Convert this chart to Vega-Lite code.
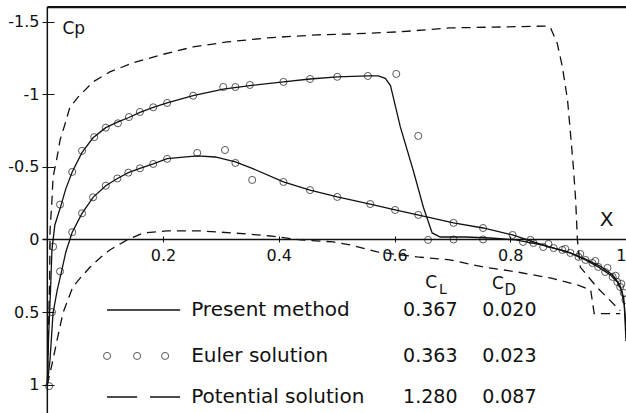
{
  "$schema": "https://vega.github.io/schema/vega-lite/v6.json",
  "width": 626,
  "height": 413,
  "autosize": {"type": "none"},
  "padding": 0,
  "background": "white",
  "config": {"view": {"stroke": null}, "font": "DejaVu Sans"},
  "datasets": {
    "curves": [
      {"method": "Present method", "surface": "upper", "x": 0, "cp": 1.0},
      {"method": "Present method", "surface": "upper", "x": 0.002, "cp": 0.69},
      {"method": "Present method", "surface": "upper", "x": 0.0055, "cp": 0.35},
      {"method": "Present method", "surface": "upper", "x": 0.008, "cp": 0.07},
      {"method": "Present method", "surface": "upper", "x": 0.013, "cp": -0.1},
      {"method": "Present method", "surface": "upper", "x": 0.024, "cp": -0.24},
      {"method": "Present method", "surface": "upper", "x": 0.032, "cp": -0.35},
      {"method": "Present method", "surface": "upper", "x": 0.043, "cp": -0.465},
      {"method": "Present method", "surface": "upper", "x": 0.06, "cp": -0.6},
      {"method": "Present method", "surface": "upper", "x": 0.079, "cp": -0.7},
      {"method": "Present method", "surface": "upper", "x": 0.101, "cp": -0.77},
      {"method": "Present method", "surface": "upper", "x": 0.122, "cp": -0.81},
      {"method": "Present method", "surface": "upper", "x": 0.141, "cp": -0.84},
      {"method": "Present method", "surface": "upper", "x": 0.16, "cp": -0.875},
      {"method": "Present method", "surface": "upper", "x": 0.183, "cp": -0.91},
      {"method": "Present method", "surface": "upper", "x": 0.207, "cp": -0.94},
      {"method": "Present method", "surface": "upper", "x": 0.252, "cp": -0.99},
      {"method": "Present method", "surface": "upper", "x": 0.304, "cp": -1.035},
      {"method": "Present method", "surface": "upper", "x": 0.35, "cp": -1.06},
      {"method": "Present method", "surface": "upper", "x": 0.408, "cp": -1.085},
      {"method": "Present method", "surface": "upper", "x": 0.454, "cp": -1.105},
      {"method": "Present method", "surface": "upper", "x": 0.501, "cp": -1.12},
      {"method": "Present method", "surface": "upper", "x": 0.554, "cp": -1.126},
      {"method": "Present method", "surface": "upper", "x": 0.572, "cp": -1.126},
      {"method": "Present method", "surface": "upper", "x": 0.584, "cp": -1.11},
      {"method": "Present method", "surface": "upper", "x": 0.593, "cp": -1.06},
      {"method": "Present method", "surface": "upper", "x": 0.61, "cp": -0.775},
      {"method": "Present method", "surface": "upper", "x": 0.632, "cp": -0.48},
      {"method": "Present method", "surface": "upper", "x": 0.65, "cp": -0.22},
      {"method": "Present method", "surface": "upper", "x": 0.665, "cp": -0.045},
      {"method": "Present method", "surface": "upper", "x": 0.679, "cp": -0.017},
      {"method": "Present method", "surface": "upper", "x": 0.722, "cp": -0.017},
      {"method": "Present method", "surface": "upper", "x": 0.765, "cp": -0.01},
      {"method": "Present method", "surface": "upper", "x": 0.809, "cp": 0.003},
      {"method": "Present method", "surface": "upper", "x": 0.852, "cp": 0.035},
      {"method": "Present method", "surface": "upper", "x": 0.895, "cp": 0.08},
      {"method": "Present method", "surface": "upper", "x": 0.93, "cp": 0.135},
      {"method": "Present method", "surface": "upper", "x": 0.956, "cp": 0.185},
      {"method": "Present method", "surface": "upper", "x": 0.977, "cp": 0.245},
      {"method": "Present method", "surface": "upper", "x": 0.989, "cp": 0.31},
      {"method": "Present method", "surface": "upper", "x": 0.996, "cp": 0.4},
      {"method": "Present method", "surface": "upper", "x": 1.0, "cp": 0.6},
      {"method": "Present method", "surface": "lower", "x": 0, "cp": 1.0},
      {"method": "Present method", "surface": "lower", "x": 0.0046, "cp": 0.83},
      {"method": "Present method", "surface": "lower", "x": 0.0099, "cp": 0.506},
      {"method": "Present method", "surface": "lower", "x": 0.017, "cp": 0.35},
      {"method": "Present method", "surface": "lower", "x": 0.024, "cp": 0.23},
      {"method": "Present method", "surface": "lower", "x": 0.032, "cp": 0.086},
      {"method": "Present method", "surface": "lower", "x": 0.043, "cp": -0.05},
      {"method": "Present method", "surface": "lower", "x": 0.06, "cp": -0.18},
      {"method": "Present method", "surface": "lower", "x": 0.079, "cp": -0.29},
      {"method": "Present method", "surface": "lower", "x": 0.101, "cp": -0.37},
      {"method": "Present method", "surface": "lower", "x": 0.121, "cp": -0.42},
      {"method": "Present method", "surface": "lower", "x": 0.14, "cp": -0.46},
      {"method": "Present method", "surface": "lower", "x": 0.16, "cp": -0.49},
      {"method": "Present method", "surface": "lower", "x": 0.183, "cp": -0.52},
      {"method": "Present method", "surface": "lower", "x": 0.207, "cp": -0.556},
      {"method": "Present method", "surface": "lower", "x": 0.259, "cp": -0.575},
      {"method": "Present method", "surface": "lower", "x": 0.29, "cp": -0.568},
      {"method": "Present method", "surface": "lower", "x": 0.325, "cp": -0.534},
      {"method": "Present method", "surface": "lower", "x": 0.354, "cp": -0.49},
      {"method": "Present method", "surface": "lower", "x": 0.408, "cp": -0.396},
      {"method": "Present method", "surface": "lower", "x": 0.454, "cp": -0.34},
      {"method": "Present method", "surface": "lower", "x": 0.501, "cp": -0.293},
      {"method": "Present method", "surface": "lower", "x": 0.558, "cp": -0.244},
      {"method": "Present method", "surface": "lower", "x": 0.601, "cp": -0.203},
      {"method": "Present method", "surface": "lower", "x": 0.64, "cp": -0.169},
      {"method": "Present method", "surface": "lower", "x": 0.702, "cp": -0.114},
      {"method": "Present method", "surface": "lower", "x": 0.753, "cp": -0.079},
      {"method": "Present method", "surface": "lower", "x": 0.804, "cp": -0.031},
      {"method": "Present method", "surface": "lower", "x": 0.84, "cp": 0.017},
      {"method": "Present method", "surface": "lower", "x": 0.875, "cp": 0.059},
      {"method": "Present method", "surface": "lower", "x": 0.904, "cp": 0.093},
      {"method": "Present method", "surface": "lower", "x": 0.93, "cp": 0.141},
      {"method": "Present method", "surface": "lower", "x": 0.952, "cp": 0.189},
      {"method": "Present method", "surface": "lower", "x": 0.973, "cp": 0.244},
      {"method": "Present method", "surface": "lower", "x": 0.985, "cp": 0.293},
      {"method": "Present method", "surface": "lower", "x": 0.992, "cp": 0.348},
      {"method": "Present method", "surface": "lower", "x": 0.997, "cp": 0.45},
      {"method": "Present method", "surface": "lower", "x": 1.0, "cp": 0.7},
      {"method": "Potential solution", "surface": "upper", "x": 0, "cp": 1.0},
      {"method": "Potential solution", "surface": "upper", "x": 0.002, "cp": 0.62},
      {"method": "Potential solution", "surface": "upper", "x": 0.004, "cp": 0.28},
      {"method": "Potential solution", "surface": "upper", "x": 0.0047, "cp": -0.065},
      {"method": "Potential solution", "surface": "upper", "x": 0.008, "cp": -0.27},
      {"method": "Potential solution", "surface": "upper", "x": 0.0099, "cp": -0.43},
      {"method": "Potential solution", "surface": "upper", "x": 0.017, "cp": -0.57},
      {"method": "Potential solution", "surface": "upper", "x": 0.022, "cp": -0.685},
      {"method": "Potential solution", "surface": "upper", "x": 0.031, "cp": -0.8},
      {"method": "Potential solution", "surface": "upper", "x": 0.039, "cp": -0.91},
      {"method": "Potential solution", "surface": "upper", "x": 0.053, "cp": -0.98},
      {"method": "Potential solution", "surface": "upper", "x": 0.079, "cp": -1.085},
      {"method": "Potential solution", "surface": "upper", "x": 0.108, "cp": -1.154},
      {"method": "Potential solution", "surface": "upper", "x": 0.148, "cp": -1.216},
      {"method": "Potential solution", "surface": "upper", "x": 0.195, "cp": -1.27},
      {"method": "Potential solution", "surface": "upper", "x": 0.252, "cp": -1.326},
      {"method": "Potential solution", "surface": "upper", "x": 0.311, "cp": -1.36},
      {"method": "Potential solution", "surface": "upper", "x": 0.38, "cp": -1.388},
      {"method": "Potential solution", "surface": "upper", "x": 0.466, "cp": -1.409},
      {"method": "Potential solution", "surface": "upper", "x": 0.523, "cp": -1.415},
      {"method": "Potential solution", "surface": "upper", "x": 0.61, "cp": -1.43},
      {"method": "Potential solution", "surface": "upper", "x": 0.696, "cp": -1.457},
      {"method": "Potential solution", "surface": "upper", "x": 0.783, "cp": -1.463},
      {"method": "Potential solution", "surface": "upper", "x": 0.864, "cp": -1.47},
      {"method": "Potential solution", "surface": "upper", "x": 0.869, "cp": -1.463},
      {"method": "Potential solution", "surface": "upper", "x": 0.881, "cp": -1.353},
      {"method": "Potential solution", "surface": "upper", "x": 0.89, "cp": -1.19},
      {"method": "Potential solution", "surface": "upper", "x": 0.899, "cp": -0.96},
      {"method": "Potential solution", "surface": "upper", "x": 0.904, "cp": -0.733},
      {"method": "Potential solution", "surface": "upper", "x": 0.909, "cp": -0.5},
      {"method": "Potential solution", "surface": "upper", "x": 0.913, "cp": -0.272},
      {"method": "Potential solution", "surface": "upper", "x": 0.916, "cp": 0.003},
      {"method": "Potential solution", "surface": "upper", "x": 0.921, "cp": 0.19},
      {"method": "Potential solution", "surface": "upper", "x": 0.95, "cp": 0.33},
      {"method": "Potential solution", "surface": "upper", "x": 0.99, "cp": 0.49},
      {"method": "Potential solution", "surface": "lower", "x": 0, "cp": 1.0},
      {"method": "Potential solution", "surface": "lower", "x": 0.008, "cp": 0.86},
      {"method": "Potential solution", "surface": "lower", "x": 0.017, "cp": 0.69},
      {"method": "Potential solution", "surface": "lower", "x": 0.027, "cp": 0.506},
      {"method": "Potential solution", "surface": "lower", "x": 0.044, "cp": 0.327},
      {"method": "Potential solution", "surface": "lower", "x": 0.057, "cp": 0.265},
      {"method": "Potential solution", "surface": "lower", "x": 0.074, "cp": 0.19},
      {"method": "Potential solution", "surface": "lower", "x": 0.091, "cp": 0.127},
      {"method": "Potential solution", "surface": "lower", "x": 0.108, "cp": 0.072},
      {"method": "Potential solution", "surface": "lower", "x": 0.138, "cp": 0.003},
      {"method": "Potential solution", "surface": "lower", "x": 0.166, "cp": -0.045},
      {"method": "Potential solution", "surface": "lower", "x": 0.207, "cp": -0.059},
      {"method": "Potential solution", "surface": "lower", "x": 0.264, "cp": -0.059},
      {"method": "Potential solution", "surface": "lower", "x": 0.321, "cp": -0.045},
      {"method": "Potential solution", "surface": "lower", "x": 0.385, "cp": -0.024},
      {"method": "Potential solution", "surface": "lower", "x": 0.437, "cp": 0.003},
      {"method": "Potential solution", "surface": "lower", "x": 0.494, "cp": 0.017},
      {"method": "Potential solution", "surface": "lower", "x": 0.524, "cp": 0.038},
      {"method": "Potential solution", "surface": "lower", "x": 0.57, "cp": 0.086},
      {"method": "Potential solution", "surface": "lower", "x": 0.639, "cp": 0.12},
      {"method": "Potential solution", "surface": "lower", "x": 0.696, "cp": 0.141},
      {"method": "Potential solution", "surface": "lower", "x": 0.753, "cp": 0.189},
      {"method": "Potential solution", "surface": "lower", "x": 0.812, "cp": 0.224},
      {"method": "Potential solution", "surface": "lower", "x": 0.869, "cp": 0.265},
      {"method": "Potential solution", "surface": "lower", "x": 0.916, "cp": 0.313},
      {"method": "Potential solution", "surface": "lower", "x": 0.939, "cp": 0.348},
      {"method": "Potential solution", "surface": "lower", "x": 0.945, "cp": 0.51},
      {"method": "Potential solution", "surface": "lower", "x": 0.99, "cp": 0.51}
    ],
    "euler": [
      {"surface": "upper", "x": 0.003, "cp": 1.01},
      {"surface": "upper", "x": 0.01, "cp": 0.05},
      {"surface": "upper", "x": 0.022, "cp": -0.24},
      {"surface": "upper", "x": 0.043, "cp": -0.465},
      {"surface": "upper", "x": 0.06, "cp": -0.61},
      {"surface": "upper", "x": 0.081, "cp": -0.705},
      {"surface": "upper", "x": 0.101, "cp": -0.77},
      {"surface": "upper", "x": 0.122, "cp": -0.8},
      {"surface": "upper", "x": 0.141, "cp": -0.843},
      {"surface": "upper", "x": 0.16, "cp": -0.878},
      {"surface": "upper", "x": 0.183, "cp": -0.91},
      {"surface": "upper", "x": 0.207, "cp": -0.94},
      {"surface": "upper", "x": 0.252, "cp": -0.99},
      {"surface": "upper", "x": 0.304, "cp": -1.05},
      {"surface": "upper", "x": 0.325, "cp": -1.05},
      {"surface": "upper", "x": 0.35, "cp": -1.064},
      {"surface": "upper", "x": 0.408, "cp": -1.085},
      {"surface": "upper", "x": 0.454, "cp": -1.105},
      {"surface": "upper", "x": 0.501, "cp": -1.12},
      {"surface": "upper", "x": 0.554, "cp": -1.126},
      {"surface": "upper", "x": 0.603, "cp": -1.14},
      {"surface": "upper", "x": 0.641, "cp": -0.713},
      {"surface": "upper", "x": 0.658, "cp": 0.003},
      {"surface": "upper", "x": 0.702, "cp": 0.0},
      {"surface": "upper", "x": 0.753, "cp": 0.0},
      {"surface": "upper", "x": 0.835, "cp": 0.003},
      {"surface": "upper", "x": 0.866, "cp": 0.031},
      {"surface": "upper", "x": 0.895, "cp": 0.065},
      {"surface": "upper", "x": 0.921, "cp": 0.1},
      {"surface": "upper", "x": 0.947, "cp": 0.148},
      {"surface": "upper", "x": 0.968, "cp": 0.196},
      {"surface": "upper", "x": 0.982, "cp": 0.25},
      {"surface": "upper", "x": 0.992, "cp": 0.306},
      {"surface": "lower", "x": 0.008, "cp": 0.5},
      {"surface": "lower", "x": 0.022, "cp": 0.22},
      {"surface": "lower", "x": 0.043, "cp": -0.05},
      {"surface": "lower", "x": 0.06, "cp": -0.18},
      {"surface": "lower", "x": 0.079, "cp": -0.29},
      {"surface": "lower", "x": 0.101, "cp": -0.37},
      {"surface": "lower", "x": 0.121, "cp": -0.42},
      {"surface": "lower", "x": 0.14, "cp": -0.46},
      {"surface": "lower", "x": 0.16, "cp": -0.49},
      {"surface": "lower", "x": 0.183, "cp": -0.52},
      {"surface": "lower", "x": 0.207, "cp": -0.555},
      {"surface": "lower", "x": 0.259, "cp": -0.596},
      {"surface": "lower", "x": 0.307, "cp": -0.616},
      {"surface": "lower", "x": 0.325, "cp": -0.527},
      {"surface": "lower", "x": 0.354, "cp": -0.41},
      {"surface": "lower", "x": 0.408, "cp": -0.396},
      {"surface": "lower", "x": 0.454, "cp": -0.34},
      {"surface": "lower", "x": 0.501, "cp": -0.293},
      {"surface": "lower", "x": 0.558, "cp": -0.244},
      {"surface": "lower", "x": 0.601, "cp": -0.203},
      {"surface": "lower", "x": 0.641, "cp": -0.169},
      {"surface": "lower", "x": 0.702, "cp": -0.114},
      {"surface": "lower", "x": 0.753, "cp": -0.079},
      {"surface": "lower", "x": 0.804, "cp": -0.031},
      {"surface": "lower", "x": 0.822, "cp": 0.017},
      {"surface": "lower", "x": 0.84, "cp": 0.024},
      {"surface": "lower", "x": 0.857, "cp": 0.052},
      {"surface": "lower", "x": 0.875, "cp": 0.059},
      {"surface": "lower", "x": 0.89, "cp": 0.072},
      {"surface": "lower", "x": 0.904, "cp": 0.093},
      {"surface": "lower", "x": 0.918, "cp": 0.12},
      {"surface": "lower", "x": 0.93, "cp": 0.141},
      {"surface": "lower", "x": 0.942, "cp": 0.162},
      {"surface": "lower", "x": 0.952, "cp": 0.189},
      {"surface": "lower", "x": 0.964, "cp": 0.224},
      {"surface": "lower", "x": 0.977, "cp": 0.258},
      {"surface": "lower", "x": 0.985, "cp": 0.293},
      {"surface": "lower", "x": 0.99, "cp": 0.327},
      {"surface": "lower", "x": 0.996, "cp": 0.368},
      {"surface": "lower", "x": 0.999, "cp": 0.417}
    ],
    "legend": [
      {"series": "Present method", "CL": 0.367, "CD": 0.02},
      {"series": "Euler solution", "CL": 0.363, "CD": 0.023},
      {"series": "Potential solution", "CL": 1.28, "CD": 0.087}
    ]
  },
  "layer": [
    {
      "data": {"name": "curves"},
      "transform": [{"filter": "datum.method === 'Present method'"}],
      "mark": {"type": "line", "color": "#111", "strokeWidth": 1.3},
      "encoding": {
        "x": {
          "field": "x", "type": "quantitative",
          "scale": {"domain": [-0.0818, 1.0], "nice": false, "zero": false},
          "axis": {
            "orient": "bottom", "offset": -177, "values": [0.2, 0.4, 0.6, 0.8, 1],
            "labelExpr": "datum.value", "domain": false, "ticks": true, "tickSize": 6,
            "tickColor": "#111", "labelPadding": 5, "labelFontSize": 16, "labelColor": "#111",
            "labelFont": "DejaVu Sans", "grid": false, "labelOverlap": false,
            "title": "X", "titleX": 606, "titleY": -17, "titleAlign": "center", "titleBaseline": "middle",
            "titleFontSize": 20, "titleFontWeight": "normal", "titleColor": "#111", "titleFont": "DejaVu Sans"
          }
        },
        "y": {
          "field": "cp", "type": "quantitative",
          "scale": {"domain": [-1.649, 1.195], "nice": false, "zero": false, "reverse": true},
          "axis": {
            "orient": "left", "offset": -54, "values": [-1.5, -1, -0.5, 0, 0.5, 1],
            "labelExpr": "datum.value", "domain": false, "ticks": true, "tickSize": 12,
            "tickColor": "#111", "labelPadding": 3, "labelFontSize": 16, "labelColor": "#111",
            "labelFont": "DejaVu Sans", "grid": false, "labelOverlap": false,
            "title": "Cp", "titleAngle": 0, "titleX": 8, "titleY": 28, "titleAlign": "left",
            "titleBaseline": "middle", "titleFontSize": 17, "titleFontWeight": "normal", "titleColor": "#111",
            "titleFont": "DejaVu Sans"
          }
        },
        "detail": {"field": "surface"}
      }
    },
    {
      "data": {"name": "curves"},
      "transform": [{"filter": "datum.method === 'Potential solution'"}],
      "mark": {"type": "line", "color": "#111", "strokeWidth": 1.3, "strokeDash": [9, 6]},
      "encoding": {
        "x": {"field": "x", "type": "quantitative"},
        "y": {"field": "cp", "type": "quantitative"},
        "detail": {"field": "surface"}
      }
    },
    {
      "data": {"name": "euler"},
      "mark": {"type": "point", "shape": "circle", "filled": false, "color": "#111", "size": 50, "strokeWidth": 1},
      "encoding": {
        "x": {"field": "x", "type": "quantitative"},
        "y": {"field": "cp", "type": "quantitative"}
      }
    },
    {
      "data": {"values": [{}]},
      "mark": {"type": "rule", "color": "#111", "strokeWidth": 1.5},
      "encoding": {"x": {"datum": 0}, "y": {"datum": -1.6}, "y2": {"datum": 1.195}}
    },
    {
      "data": {"values": [{}]},
      "mark": {"type": "rule", "color": "#111", "strokeWidth": 1.5},
      "encoding": {"y": {"datum": 0}, "x": {"datum": -0.008}, "x2": {"datum": 1.0}}
    },
    {
      "data": {"values": [{}]},
      "mark": {"type": "rule", "color": "#111", "strokeWidth": 2.2},
      "encoding": {"y": {"datum": -1.6}, "x": {"datum": 0}, "x2": {"datum": 1.0}}
    },
    {
      "data": {"name": "legend"},
      "transform": [{"filter": "datum.series === 'Present method'"}],
      "mark": {"type": "rule", "color": "#111", "strokeWidth": 1.5},
      "encoding": {"x": {"datum": 0.1032}, "x2": {"datum": 0.2295}, "y": {"datum": 0.4855}}
    },
    {
      "data": {"name": "legend"},
      "transform": [{"filter": "datum.series === 'Potential solution'"}],
      "mark": {"type": "rule", "color": "#111", "strokeWidth": 1.5, "strokeDash": [30, 13]},
      "encoding": {"x": {"datum": 0.1032}, "x2": {"datum": 0.2295}, "y": {"datum": 1.085}}
    },
    {
      "data": {"name": "legend"},
      "transform": [{"filter": "datum.series === 'Euler solution'"}],
      "mark": {"type": "point", "shape": "circle", "filled": false, "color": "#111", "size": 50, "strokeWidth": 1},
      "encoding": {"x": {"datum": 0.1032}, "y": {"datum": 0.802}}
    },
    {
      "data": {"name": "legend"},
      "transform": [{"filter": "datum.series === 'Euler solution'"}],
      "mark": {"type": "point", "shape": "circle", "filled": false, "color": "#111", "size": 50, "strokeWidth": 1},
      "encoding": {"x": {"datum": 0.1551}, "y": {"datum": 0.802}}
    },
    {
      "data": {"name": "legend"},
      "transform": [{"filter": "datum.series === 'Euler solution'"}],
      "mark": {"type": "point", "shape": "circle", "filled": false, "color": "#111", "size": 50, "strokeWidth": 1},
      "encoding": {"x": {"datum": 0.2035}, "y": {"datum": 0.802}}
    },
    {
      "data": {"name": "legend"},
      "transform": [{"filter": "datum.series === 'Present method'"}],
      "mark": {"type": "text", "align": "left", "baseline": "middle", "fontSize": 20, "color": "#111"},
      "encoding": {"x": {"datum": 0.2485}, "y": {"datum": 0.4855}, "text": {"field": "series"}}
    },
    {
      "data": {"name": "legend"},
      "transform": [{"filter": "datum.series === 'Euler solution'"}],
      "mark": {"type": "text", "align": "left", "baseline": "middle", "fontSize": 20, "color": "#111"},
      "encoding": {"x": {"datum": 0.2485}, "y": {"datum": 0.802}, "text": {"field": "series"}}
    },
    {
      "data": {"name": "legend"},
      "transform": [{"filter": "datum.series === 'Potential solution'"}],
      "mark": {"type": "text", "align": "left", "baseline": "middle", "fontSize": 20, "color": "#111"},
      "encoding": {"x": {"datum": 0.2485}, "y": {"datum": 1.085}, "text": {"field": "series"}}
    },
    {
      "data": {"name": "legend"},
      "transform": [{"filter": "datum.series === 'Present method'"}],
      "mark": {"type": "text", "align": "center", "baseline": "middle", "fontSize": 19, "color": "#111"},
      "encoding": {"x": {"datum": 0.6618}, "y": {"datum": 0.4855}, "text": {"field": "CL", "type": "quantitative", "format": ".3f"}}
    },
    {
      "data": {"name": "legend"},
      "transform": [{"filter": "datum.series === 'Euler solution'"}],
      "mark": {"type": "text", "align": "center", "baseline": "middle", "fontSize": 19, "color": "#111"},
      "encoding": {"x": {"datum": 0.6618}, "y": {"datum": 0.802}, "text": {"field": "CL", "type": "quantitative", "format": ".3f"}}
    },
    {
      "data": {"name": "legend"},
      "transform": [{"filter": "datum.series === 'Potential solution'"}],
      "mark": {"type": "text", "align": "center", "baseline": "middle", "fontSize": 19, "color": "#111"},
      "encoding": {"x": {"datum": 0.6618}, "y": {"datum": 1.085}, "text": {"field": "CL", "type": "quantitative", "format": ".3f"}}
    },
    {
      "data": {"name": "legend"},
      "transform": [{"filter": "datum.series === 'Present method'"}],
      "mark": {"type": "text", "align": "center", "baseline": "middle", "fontSize": 19, "color": "#111"},
      "encoding": {"x": {"datum": 0.7984}, "y": {"datum": 0.4855}, "text": {"field": "CD", "type": "quantitative", "format": ".3f"}}
    },
    {
      "data": {"name": "legend"},
      "transform": [{"filter": "datum.series === 'Euler solution'"}],
      "mark": {"type": "text", "align": "center", "baseline": "middle", "fontSize": 19, "color": "#111"},
      "encoding": {"x": {"datum": 0.7984}, "y": {"datum": 0.802}, "text": {"field": "CD", "type": "quantitative", "format": ".3f"}}
    },
    {
      "data": {"name": "legend"},
      "transform": [{"filter": "datum.series === 'Potential solution'"}],
      "mark": {"type": "text", "align": "center", "baseline": "middle", "fontSize": 19, "color": "#111"},
      "encoding": {"x": {"datum": 0.7984}, "y": {"datum": 1.085}, "text": {"field": "CD", "type": "quantitative", "format": ".3f"}}
    },
    {
      "data": {"values": [{}]},
      "mark": {"type": "text", "text": "C", "align": "center", "baseline": "middle", "fontSize": 17, "color": "#111"},
      "encoding": {"x": {"datum": 0.6635}, "y": {"datum": 0.3}}
    },
    {
      "data": {"values": [{}]},
      "mark": {"type": "text", "text": "L", "align": "center", "baseline": "middle", "fontSize": 14, "color": "#111"},
      "encoding": {"x": {"datum": 0.6834}, "y": {"datum": 0.345}}
    },
    {
      "data": {"values": [{}]},
      "mark": {"type": "text", "text": "C", "align": "center", "baseline": "middle", "fontSize": 17, "color": "#111"},
      "encoding": {"x": {"datum": 0.7787}, "y": {"datum": 0.31}}
    },
    {
      "data": {"values": [{}]},
      "mark": {"type": "text", "text": "D", "align": "center", "baseline": "middle", "fontSize": 15, "color": "#111"},
      "encoding": {"x": {"datum": 0.8}, "y": {"datum": 0.35}}
    }
  ]
}
